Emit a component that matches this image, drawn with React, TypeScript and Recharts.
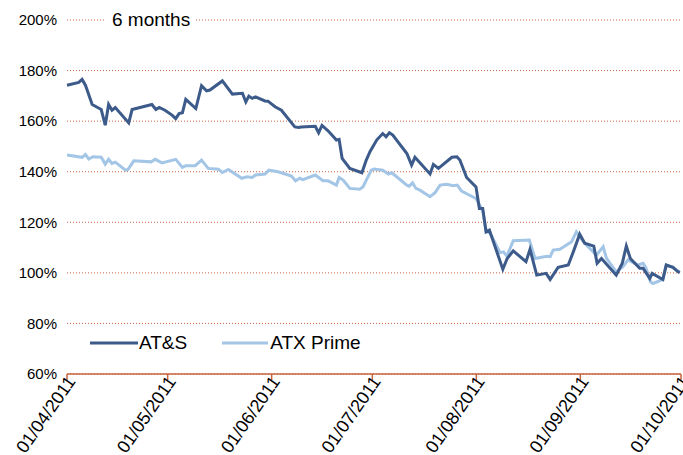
import React from 'react';
import { LineChart, Line, XAxis, YAxis, CartesianGrid } from 'recharts';

// Days since 01/04/2011 and index values (%)
const atsDays = [0, 3.5, 4.5, 5.5, 7.5, 10.2, 11.4, 12.4, 13.4, 14.4, 18.4, 19.4, 25.3, 26.5, 27.5, 29.2, 31.3, 32.4, 33.4, 34.4, 35.4, 38.4, 40.1, 41.6, 42.6, 46.3, 49.3, 52.3, 53.3, 54.2, 55.2, 56.2, 59.0, 59.9, 62.0, 63.9, 67.9, 69.1, 69.8, 74.0, 75.0, 76.0, 77.8, 80.3, 81.1, 82.0, 84.3, 87.9, 89.2, 90.3, 92.3, 94.1, 95.1, 96.1, 97.1, 101.3, 102.7, 103.7, 108.2, 109.2, 110.7, 114.7, 116.2, 117.1, 119.1, 121.9, 122.9, 123.9, 124.9, 125.9, 129.9, 131.2, 133.0, 136.8, 138.0, 140.0, 142.8, 144.0, 146.4, 149.4, 150.9, 152.8, 154.3, 157.0, 158.0, 159.3, 163.7, 165.5, 166.7, 167.9, 170.7, 171.7, 173.7, 174.4, 177.6, 178.6, 180.6, 181.8, 182.6];
const atsValues = [174.2, 175.3, 176.5, 174.2, 166.6, 164.6, 158.4, 166.6, 164.3, 165.4, 159.3, 164.6, 166.6, 164.6, 165.4, 164.3, 162.4, 161.0, 163.0, 163.3, 168.6, 165.0, 174.0, 172.0, 172.3, 175.9, 170.7, 171.0, 167.6, 169.9, 169.0, 169.6, 168.0, 167.9, 165.7, 164.3, 157.7, 157.5, 157.7, 158.0, 155.4, 158.3, 156.2, 152.5, 152.8, 145.3, 141.3, 139.6, 144.6, 147.9, 152.5, 155.1, 153.8, 155.4, 154.5, 147.2, 142.6, 145.7, 139.1, 142.9, 141.3, 145.7, 145.9, 144.6, 137.7, 134.0, 125.5, 125.5, 116.2, 116.9, 101.4, 105.7, 108.7, 104.4, 109.3, 99.1, 99.8, 97.4, 102.2, 103.1, 108.3, 115.3, 111.7, 110.6, 103.8, 105.7, 99.1, 103.8, 110.6, 105.7, 101.8, 101.8, 97.8, 99.8, 97.4, 103.1, 102.2, 100.8, 100.0];

const atxDays = [0, 4.5, 5.5, 6.5, 7.7, 10.2, 11.4, 12.4, 13.4, 14.4, 17.4, 18.2, 19.9, 25.1, 26.3, 28.3, 32.4, 34.4, 35.4, 38.2, 40.1, 42.1, 45.1, 46.3, 48.1, 52.1, 53.6, 55.2, 56.2, 59.0, 60.2, 62.9, 66.9, 68.1, 69.4, 70.3, 74.0, 76.3, 77.8, 80.3, 81.1, 82.3, 84.3, 87.2, 88.2, 90.7, 91.5, 94.1, 95.8, 96.8, 101.3, 102.0, 103.0, 104.0, 105.2, 108.2, 109.7, 111.2, 113.2, 115.1, 116.3, 117.6, 121.9, 123.9, 124.9, 126.1, 129.1, 130.1, 131.1, 133.0, 137.8, 139.5, 143.0, 144.0, 144.9, 146.9, 150.4, 151.8, 152.8, 154.3, 155.8, 157.8, 159.8, 160.8, 163.7, 165.7, 167.2, 170.2, 171.7, 172.5, 173.9, 174.7, 177.6, 178.6, 180.6, 181.6, 182.6];
const atxValues = [146.6, 145.7, 146.8, 145.0, 145.9, 145.7, 143.0, 144.9, 143.3, 143.8, 140.6, 140.9, 144.3, 143.9, 144.9, 143.5, 144.9, 141.7, 142.4, 142.4, 144.6, 141.3, 141.0, 139.7, 140.9, 137.4, 138.0, 137.7, 138.7, 139.1, 140.6, 140.0, 138.3, 136.4, 137.4, 136.9, 138.7, 136.4, 136.4, 134.7, 137.7, 136.7, 133.4, 133.1, 134.0, 140.6, 141.1, 140.6, 139.1, 139.6, 134.7, 134.3, 135.6, 133.4, 132.7, 130.1, 131.7, 134.7, 135.0, 134.5, 134.7, 132.3, 129.4, 124.8, 116.6, 115.6, 108.0, 108.3, 106.6, 112.7, 113.0, 105.7, 106.6, 106.4, 109.0, 109.3, 112.3, 116.2, 114.3, 111.7, 109.7, 107.0, 110.3, 105.7, 100.4, 102.4, 105.1, 103.1, 103.8, 102.2, 96.5, 95.8, 97.4, 103.1, 102.2, 101.1, 100.5];

const monthTickDays = [0, 30, 61, 91, 122, 153, 183];
const monthTickLabels = ['01/04/2011', '01/05/2011', '01/06/2011', '01/07/2011', '01/08/2011', '01/09/2011', '01/10/2011'];
const yTicks = [60, 80, 100, 120, 140, 160, 180, 200];
const seriesNames = ['AT&S', 'ATX Prime'];
const chartTitle = '6 months';

const FONT = '"Liberation Sans", Arial, sans-serif';
const ATS_COLOR = '#3C5A8A';
const ATX_COLOR = '#A3C5E6';
const AXIS_COLOR = '#C8643C';

const atsData = atsDays.map((d, i) => ({ day: d, value: atsValues[i] }));
const atxData = atxDays.map((d, i) => ({ day: d, value: atxValues[i] }));

const XTick = (props: any) => {
  const { x, y, payload } = props;
  const idx = monthTickDays.indexOf(payload.value);
  return (
    <g transform={`translate(${x + 4},${y - 4})`}>
      <text x={0} y={0} dy="0.35em" textAnchor="end" transform="rotate(-55)" fontSize={18} fill="#000" fontFamily={FONT}>
        {monthTickLabels[idx]}
      </text>
    </g>
  );
};

export default function App() {
  return (
    <div style={{ position: 'absolute', left: 0, top: 0, width: 683, height: 455, background: '#fff', fontFamily: FONT, overflow: 'hidden' }}>
      <LineChart width={683} height={455} margin={{ top: 20, right: 2, left: 7, bottom: 0 }}>
        <CartesianGrid vertical={false} stroke={AXIS_COLOR} strokeDasharray="1 2" strokeWidth={1} />
        <XAxis
          dataKey="day"
          type="number"
          domain={[0, 183]}
          ticks={monthTickDays}
          interval={0}
          height={81}
          tick={<XTick />}
          tickSize={6}
          tickLine={{ stroke: AXIS_COLOR, strokeWidth: 1.5 }}
          axisLine={{ stroke: AXIS_COLOR, strokeWidth: 1.5 }}
        />
        <YAxis
          type="number"
          domain={[60, 200]}
          ticks={yTicks}
          interval={0}
          width={60}
          axisLine={false}
          tickLine={false}
          tickMargin={4}
          tickFormatter={(v: number) => `${v}%`}
          tick={{ fontSize: 15, fill: '#000', fontFamily: FONT }}
        />
        <Line data={atxData} dataKey="value" name={seriesNames[1]} type="linear" stroke={ATX_COLOR} strokeWidth={3} dot={false} isAnimationActive={false} />
        <Line data={atsData} dataKey="value" name={seriesNames[0]} type="linear" stroke={ATS_COLOR} strokeWidth={3} dot={false} isAnimationActive={false} />
      </LineChart>
      <div style={{ position: 'absolute', left: 90, top: 332, display: 'flex', alignItems: 'center', fontSize: 19, fontFamily: FONT, color: '#000', whiteSpace: 'nowrap' }}>
        <svg width={48} height={6} style={{ display: 'block' }}>
          <line x1={0} y1={3} x2={48} y2={3} stroke={ATS_COLOR} strokeWidth={3} />
        </svg>
        <span style={{ marginLeft: 1 }}>{seriesNames[0]}</span>
        <svg width={46} height={6} style={{ display: 'block', marginLeft: 35 }}>
          <line x1={0} y1={3} x2={46} y2={3} stroke={ATX_COLOR} strokeWidth={3} />
        </svg>
        <span style={{ marginLeft: 2 }}>{seriesNames[1]}</span>
      </div>
      <div style={{ position: 'absolute', left: 106, top: 9, padding: '0 6px', background: '#fff', fontSize: 19, lineHeight: '22px', color: '#000', fontFamily: FONT }}>
        {chartTitle}
      </div>
    </div>
  );
}
